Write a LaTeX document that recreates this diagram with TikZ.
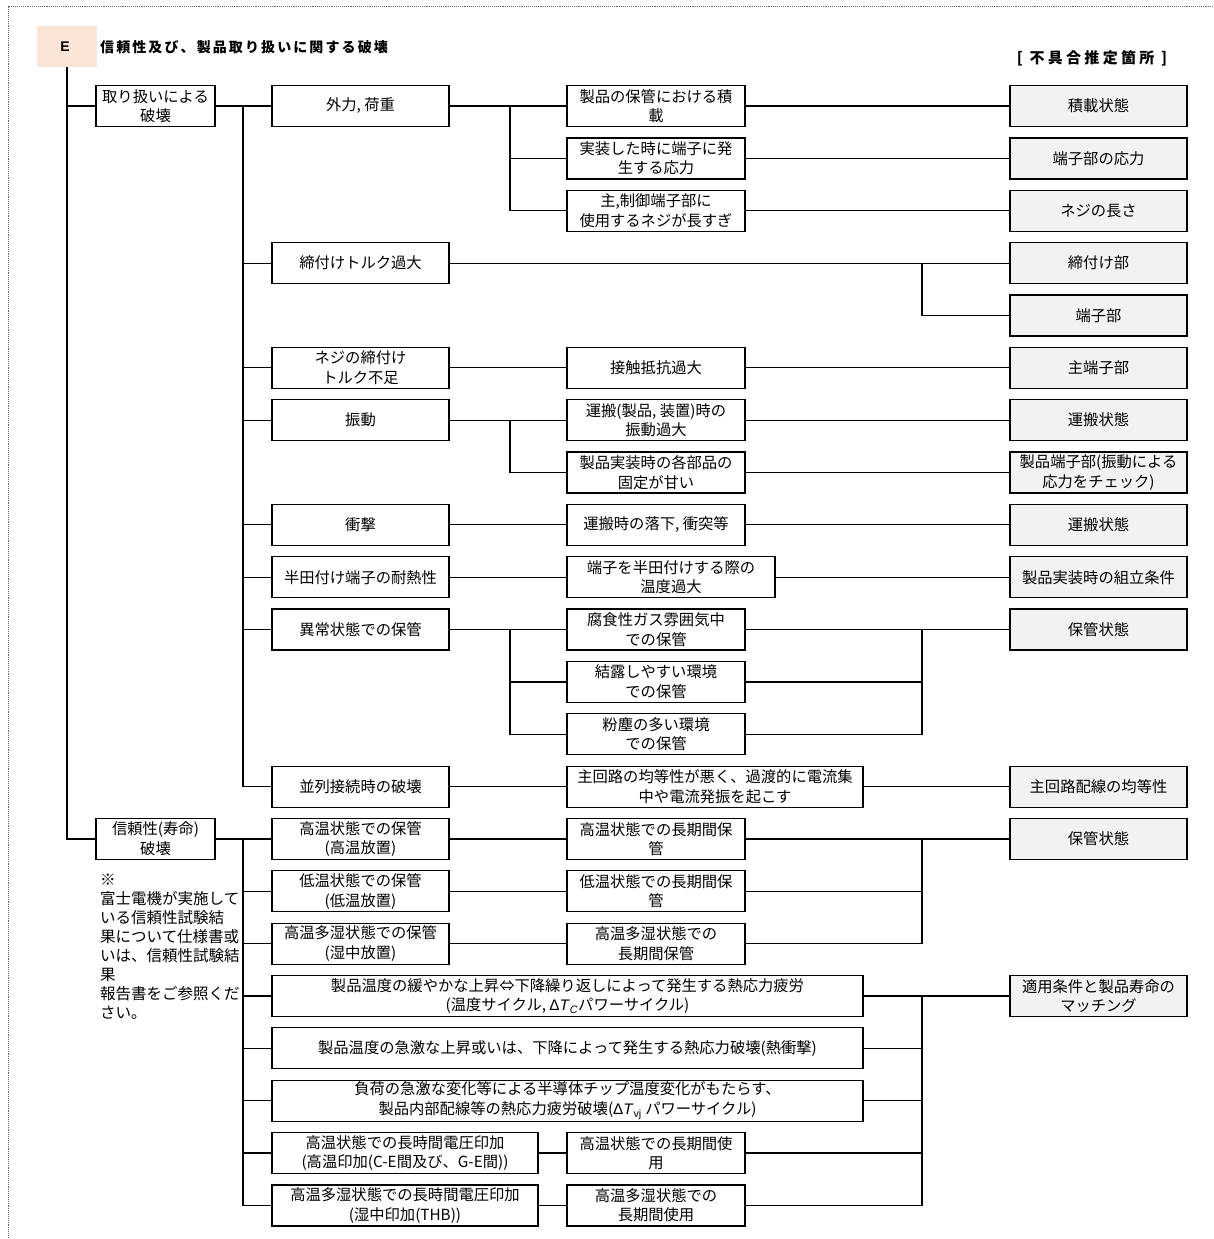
\documentclass[tikz,border=0pt]{standalone}
\usepackage{fontspec}
\setmainfont{Noto Sans CJK JP}
\newfontfamily\lat{Liberation Sans}
\newfontfamily\ttlfont{Noto Sans CJK JP}[LetterSpace=15]
\newfontfamily\locfont{Noto Sans CJK JP}[LetterSpace=22]
\definecolor{peach}{HTML}{FCE4D6}
\definecolor{boxgray}{HTML}{F2F2F2}
\newcommand\bxfont{\fontsize{15.3}{19.5}\selectfont}
\newcommand\dT{{\lat Δ\textit{T}}}
\begin{document}
\begin{tikzpicture}[x=1pt,y=-1pt,
  bx/.style={draw, line width=1.2pt, minimum height=41pt, inner sep=0pt, align=center, font=\bxfont, fill=white},
  gbx/.style={bx, fill=boxgray},
  wa/.style={minimum width=119pt},
  wb/.style={minimum width=177pt},
  wc/.style={minimum width=178pt},
  ln/.style={line width=1.2pt},
  frame/.style={densely dotted, line width=0.9pt, black!60}]
\useasboundingbox (0,0) rectangle (1213,1239);
% dotted frame
\coordinate (fTL) at (8,6);
\coordinate (fTR) at (1213,6);
\coordinate (fBL) at (8,1239);
\draw[frame] (fTR) -- (fTL) -- (fBL);

% header
\node[fill=peach, minimum width=60pt, minimum height=41pt, inner sep=0pt] (E) at (67,46.5) {};
\node[font=\lat\bfseries\fontsize{14}{16}\selectfont] (Et) at (65,47) {E};
\node[anchor=west, inner sep=0pt, font=\ttlfont\bfseries\fontsize{14}{16}\selectfont] (title) at (100,47) {信頼性及び、製品取り扱いに関する破壊};
\node[inner sep=0pt, font=\locfont\bfseries\fontsize{15}{17}\selectfont] (loc) at (1092,58) {[ 不具合推定箇所 ]};

% level 1
\node[bx, wa] (A) at (155.5,106) {取り扱いによる\\破壊};
\node[bx, wa] (B) at (155.5,838.9) {信頼性(寿命)\\破壊};

% level 2, group 1
\node[bx, wb] (a1) at (360.5,106) {外力, 荷重};
\node[bx, wb] (a2) at (360.5,263.1) {締付けトルク過大};
\node[bx, wb] (a3) at (360.5,367.8) {ネジの締付け\\トルク不足};
\node[bx, wb] (a4) at (360.5,420.1) {振動};
\node[bx, wb] (a5) at (360.5,524.8) {衝撃};
\node[bx, wb] (a6) at (360.5,577.2) {半田付け端子の耐熱性};
\node[bx, wb] (a7) at (360.5,629.5) {異常状態での保管};
\node[bx, wb] (a8) at (360.5,786.6) {並列接続時の破壊};

% level 3, group 1
\node[bx, wc] (c1) at (656,106) {製品の保管における積\\載};
\node[bx, wc] (c2) at (656,158.4) {実装した時に端子に発\\生する応力};
\node[bx, wc] (c3) at (656,210.7) {主,制御端子部に\\使用するネジが長すぎ};
\node[bx, wc] (c4) at (656,367.8) {接触抵抗過大};
\node[bx, wc] (c5) at (656,420.1) {運搬(製品, 装置)時の\\振動過大};
\node[bx, wc] (c6) at (656,472.5) {製品実装時の各部品の\\固定が甘い};
\node[bx, wc] (c7) at (656,524.8) {運搬時の落下, 衝突等};
\node[bx, minimum width=208pt] (c8) at (671,577.2) {端子を半田付けする際の\\温度過大};
\node[bx, wc] (c9) at (656,629.5) {腐食性ガス雰囲気中\\での保管};
\node[bx, wc] (c10) at (656,681.9) {結露しやすい環境\\での保管};
\node[bx, wc] (c11) at (656,734.2) {粉塵の多い環境\\での保管};
\node[bx, minimum width=296pt] (c12) at (715,786.6) {主回路の均等性が悪く、過渡的に電流集\\中や電流発振を起こす};

% right column
\node[gbx, wb] (r1) at (1098.5,106) {積載状態};
\node[gbx, wb] (r2) at (1098.5,158.4) {端子部の応力};
\node[gbx, wb] (r3) at (1098.5,210.7) {ネジの長さ};
\node[gbx, wb] (r4) at (1098.5,263.1) {締付け部};
\node[gbx, wb] (r5) at (1098.5,315.4) {端子部};
\node[gbx, wb] (r6) at (1098.5,367.8) {主端子部};
\node[gbx, wb] (r7) at (1098.5,420.1) {運搬状態};
\node[gbx, wb] (r8) at (1098.5,472.5) {製品端子部(振動による\\応力をチェック)};
\node[gbx, wb] (r9) at (1098.5,524.8) {運搬状態};
\node[gbx, wb] (r10) at (1098.5,577.2) {製品実装時の組立条件};
\node[gbx, wb] (r11) at (1098.5,629.5) {保管状態};
\node[gbx, wb] (r12) at (1098.5,786.6) {主回路配線の均等性};
\node[gbx, wb] (r13) at (1098.5,838.9) {保管状態};
\node[gbx, wb] (r14) at (1098.5,996) {適用条件と製品寿命の\\マッチング};

% level 2, group 2
\node[bx, wb] (b1) at (360.5,838.9) {高温状態での保管\\(高温放置)};
\node[bx, wb] (b2) at (360.5,891.3) {低温状態での保管\\(低温放置)};
\node[bx, wb] (b3) at (360.5,943.6) {高温多湿状態での保管\\(湿中放置)};
\node[bx, minimum width=591pt] (b4) at (567.5,996) {製品温度の緩やかな上昇⇔下降繰り返しによって発生する熱応力疲労\\(温度サイクル, \dT\textsubscript{\lat\itshape C}パワーサイクル)};
\node[bx, minimum width=591pt] (b5) at (567.5,1048.3) {製品温度の急激な上昇或いは、下降によって発生する熱応力破壊(熱衝撃)};
\node[bx, minimum width=591pt] (b6) at (567.5,1100.7) {負荷の急激な変化等による半導体チップ温度変化がもたらす、\\製品内部配線等の熱応力疲労破壊(\dT\textsubscript{\lat vj} パワーサイクル)};
\node[bx, minimum width=266pt] (b7) at (405,1153) {高温状態での長時間電圧印加\\(高温印加(C-E間及び、G-E間))};
\node[bx, minimum width=266pt] (b8) at (405,1205.4) {高温多湿状態での長時間電圧印加\\(湿中印加(THB))};

% level 3, group 2
\node[bx, wc] (d1) at (656,838.9) {高温状態での長期間保\\管};
\node[bx, wc] (d2) at (656,891.3) {低温状態での長期間保\\管};
\node[bx, wc] (d3) at (656,943.6) {高温多湿状態での\\長期間保管};
\node[bx, wc] (d4) at (656,1153) {高温状態での長期間使\\用};
\node[bx, wc] (d5) at (656,1205.4) {高温多湿状態での\\長期間使用};

% note
\node[anchor=north west, inner sep=0pt, align=left, font=\fontsize{15.5}{19}\selectfont] (note) at (100,874) {※\\富士電機が実施して\\いる信頼性試験結\\果について仕様書或\\いは、信頼性試験結\\果\\報告書をご参照くだ\\さい。};

% junction coordinates
\coordinate (busA) at (243,106);
\coordinate (busB) at (243,838.9);
\coordinate (j1) at (510,106);
\coordinate (j2) at (922,263.1);
\coordinate (j3) at (510,420.1);
\coordinate (j4) at (510,629.5);
\coordinate (j5) at (922,629.5);
\coordinate (j6) at (922,838.9);
\coordinate (j7) at (922,996);

\begin{scope}[ln]
% trunk
\draw (E.south) |- (A.west);
\draw (E.south) |- (B.west);
% group 1 bus
\draw (A.east) -- (a1.west);
\foreach \n in {a2,a3,a4,a5,a6,a7,a8} \draw (busA) |- (\n.west);
% external force
\draw (a1.east) -- (c1.west);
\draw (j1) |- (c2.west);
\draw (j1) |- (c3.west);
\draw (c1.east) -- (r1.west);
\draw (c2.east) -- (r2.west);
\draw (c3.east) -- (r3.west);
% torque
\draw (a2.east) -- (r4.west);
\draw (j2) |- (r5.west);
\draw (a3.east) -- (c4.west);
\draw (c4.east) -- (r6.west);
% vibration
\draw (a4.east) -- (c5.west);
\draw (j3) |- (c6.west);
\draw (c5.east) -- (r7.west);
\draw (c6.east) -- (r8.west);
% shock, solder
\draw (a5.east) -- (c7.west);
\draw (c7.east) -- (r9.west);
\draw (a6.east) -- (c8.west);
\draw (c8.east) -- (r10.west);
% storage
\draw (a7.east) -- (c9.west);
\draw (j4) |- (c10.west);
\draw (j4) |- (c11.west);
\draw (c9.east) -- (r11.west);
\draw (c10.east) -| (j5);
\draw (c11.east) -| (j5);
% parallel
\draw (a8.east) -- (c12.west);
\draw (c12.east) -- (r12.west);
% group 2 bus
\draw (B.east) -- (b1.west);
\foreach \n in {b2,b3,b4,b5,b6,b7,b8} \draw (busB) |- (\n.west);
\draw (b1.east) -- (d1.west);
\draw (b2.east) -- (d2.west);
\draw (b3.east) -- (d3.west);
\draw (d1.east) -- (r13.west);
\draw (d2.east) -| (j6);
\draw (d3.east) -| (j6);
\draw (b4.east) -- (r14.west);
\draw (b5.east) -| (j7);
\draw (b6.east) -| (j7);
\draw (b7.east) -- (d4.west);
\draw (b8.east) -- (d5.west);
\draw (d4.east) -| (j7);
\draw (d5.east) -| (j7);
\end{scope}
\end{tikzpicture}
\end{document}
